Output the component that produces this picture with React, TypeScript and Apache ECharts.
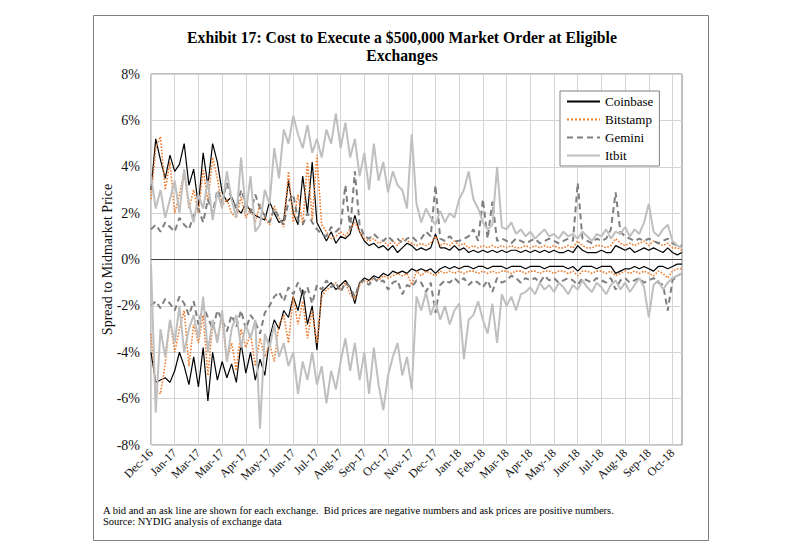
import React, { useEffect, useRef } from "react";
import * as echarts from "echarts";

const monthLabels = [
  "Dec-16", "Jan-17", "Mar-17", "Mar-17", "Apr-17", "May-17", "Jun-17", "Jul-17",
  "Aug-17", "Sep-17", "Oct-17", "Nov-17", "Dec-17", "Jan-18", "Feb-18", "Mar-18",
  "Apr-18", "May-18", "Jun-18", "Jul-18", "Aug-18", "Sep-18", "Oct-18",
];

// sampled every 6 days, 5 samples per labelled 30-day interval
const coinbaseAsk = [
  3.0, 5.2, 4.3, 3.5, 4.5, 3.8, 4.1, 5.0, 3.2, 3.9,
  2.3, 4.6, 3.2, 5.0, 4.2, 2.9, 2.5, 2.7, 2.2, 2.0,
  2.4, 2.1, 1.9, 1.8, 1.7, 2.5, 2.0, 1.6, 1.7, 3.4,
  2.0, 1.5, 3.6, 2.0, 4.2, 1.6, 1.2, 0.8, 1.2, 0.7,
  1.0, 0.9, 1.1, 1.9, 1.2, 0.8, 0.6, 0.7, 0.5, 0.6,
  0.4, 0.6, 0.3, 0.5, 0.7, 0.6, 0.4, 0.5, 0.4, 0.5,
  1.1, 0.5, 0.5, 0.4, 0.6, 0.4, 0.5, 0.3, 0.4, 0.3,
  0.4, 0.3, 0.4, 0.3, 0.4, 0.3, 0.4, 0.4, 0.3, 0.4,
  0.3, 0.4, 0.3, 0.4, 0.3, 0.4, 0.3, 0.3, 0.4, 0.3,
  0.6, 0.4, 0.3, 0.3, 0.3, 0.4, 0.3, 0.3, 0.6, 0.5,
  0.4, 0.5, 0.3, 0.4, 0.5, 0.4, 0.5, 0.4, 0.3, 0.5,
  0.3, 0.2, 0.3,
];
const coinbaseBid = [
  -4.0, -5.3, -5.2, -5.1, -5.3, -4.8, -4.0, -4.6, -5.4, -4.2,
  -5.5, -3.8, -6.1, -4.0, -5.2, -4.4, -5.1, -4.5, -5.3, -3.6,
  -4.9, -4.0, -5.2, -4.3, -5.0, -3.4, -2.6, -3.0, -2.2, -2.5,
  -1.6, -2.2, -1.3, -2.8, -2.0, -3.9, -1.4, -1.2, -1.0, -1.3,
  -1.1, -0.9, -1.2, -1.9, -1.0, -0.8, -0.9, -0.7, -0.8, -0.6,
  -0.7, -0.5, -0.6, -0.5, -0.6, -0.4, -0.5, -0.4, -0.5, -0.4,
  -0.6, -0.4, -0.3, -0.4, -0.3, -0.4, -0.3, -0.3, -0.4, -0.3,
  -0.3, -0.4, -0.3, -0.3, -0.3, -0.4, -0.3, -0.3, -0.3, -0.4,
  -0.3, -0.3, -0.3, -0.4, -0.3, -0.3, -0.3, -0.3, -0.4, -0.3,
  -0.5, -0.3, -0.3, -0.3, -0.4, -0.3, -0.3, -0.3, -0.6, -0.5,
  -0.4, -0.4, -0.3, -0.4, -0.3, -0.4, -0.5, -0.3, -0.3, -0.4,
  -0.3, -0.2, -0.2,
];
const bitstampAsk = [
  2.6, 4.8, 5.3, 3.0, 4.2, 2.0, 2.8, 3.8, 2.2, 3.0,
  2.0, 3.9, 2.5, 4.4, 3.5, 2.3, 2.6, 2.0, 1.8, 2.7,
  1.8, 2.2, 1.6, 2.4, 1.8, 1.5, 2.3, 1.8, 1.4, 3.8,
  1.6, 2.8, 1.5, 4.2, 1.7, 4.5, 1.5, 1.2, 0.9, 1.0,
  1.2, 1.0, 1.3, 1.6, 1.2, 0.9, 0.8, 0.9, 0.7, 0.8,
  0.6, 0.8, 0.6, 0.9, 0.8, 0.7, 0.6, 0.7, 0.6, 0.7,
  1.0, 0.6, 0.7, 0.6, 0.8, 0.6, 0.7, 0.5, 0.6, 0.5,
  0.6, 0.5, 0.6, 0.5, 0.6, 0.5, 0.6, 0.5, 0.5, 0.6,
  0.5, 0.6, 0.5, 0.6, 0.5, 0.6, 0.5, 0.5, 0.6, 0.5,
  0.8, 0.6, 0.5, 0.5, 0.6, 0.6, 0.5, 0.6, 0.9, 0.7,
  0.6, 0.7, 0.6, 0.7, 0.8, 0.6, 0.8, 0.7, 0.6, 0.7,
  0.5, 0.5, 0.4,
];
const bitstampBid = [
  -3.2, -5.6, -5.8, -4.5, -2.6, -4.0, -3.0, -2.2, -4.6, -2.8,
  -3.6, -2.4, -5.0, -2.8, -3.4, -2.5, -4.4, -3.6, -4.8, -3.0,
  -3.8, -3.2, -4.6, -3.4, -4.2, -3.6, -4.4, -2.8, -2.4, -3.6,
  -1.6, -2.8, -1.8, -3.4, -2.2, -3.6, -1.6, -1.3, -1.2, -1.0,
  -1.3, -1.0, -1.5, -1.7, -1.1, -0.9, -1.0, -0.8, -0.9, -0.7,
  -0.8, -0.7, -0.6, -0.7, -0.6, -1.1, -0.5, -0.7, -0.5, -0.6,
  -0.7, -0.5, -0.6, -0.5, -0.6, -0.5, -0.6, -0.5, -0.5, -0.6,
  -0.5, -0.6, -0.5, -0.6, -0.5, -0.5, -0.6, -0.5, -0.5, -0.6,
  -0.5, -0.5, -0.6, -0.5, -0.5, -0.6, -0.5, -0.5, -0.6, -0.5,
  -0.7, -0.5, -0.5, -0.6, -0.5, -0.5, -0.6, -0.5, -0.7, -0.6,
  -0.5, -0.6, -0.5, -0.6, -0.5, -0.6, -0.7, -0.5, -0.6, -0.8,
  -0.5, -0.4, -0.4,
];
const geminiAsk = [
  1.3, 1.5, 1.2, 1.6, 1.4, 1.2, 1.8, 1.5, 1.3, 1.9,
  2.2, 1.6, 2.6, 2.0, 3.0, 2.5, 3.3, 2.6, 2.2, 3.0,
  2.4, 2.0, 2.8, 2.2, 1.9, 1.6, 2.2, 1.8, 1.5, 2.5,
  2.8, 1.7, 1.5, 2.0, 1.6, 1.3, 1.1, 1.0, 1.4, 1.2,
  1.4, 3.2, 1.3, 3.8, 1.5, 1.0, 0.9, 1.1, 0.9, 0.8,
  1.0, 0.8, 0.9, 0.7, 0.9, 1.0, 0.8, 0.9, 1.2, 1.0,
  3.2, 0.9, 0.8, 1.0, 0.8, 0.8, 0.9, 1.0, 1.3, 0.8,
  2.6, 0.9, 2.5, 0.8, 0.9, 0.8, 0.7, 0.9, 0.8, 0.7,
  0.8, 0.9, 0.7, 0.8, 0.9, 0.8, 0.7, 0.8, 0.9, 0.8,
  3.3, 0.9, 0.8, 0.7, 0.9, 0.8, 0.9, 1.3, 2.9, 1.2,
  1.0, 0.9, 0.8, 0.9, 0.8, 0.9, 0.8, 0.7, 0.8, 0.9,
  0.7, 0.6, 0.6,
];
const geminiBid = [
  -2.0, -1.8, -2.1, -1.7, -1.9, -2.2, -1.6, -1.9, -2.4, -1.8,
  -2.8, -2.0, -2.5, -3.0, -2.2, -2.6, -3.1, -2.4, -2.9, -2.2,
  -3.0, -2.4, -2.7, -3.2, -2.3, -2.0, -1.6, -1.4, -1.8, -1.2,
  -1.5, -1.0, -1.6, -1.2, -1.9, -1.1, -1.3, -0.9, -1.2, -1.0,
  -1.4, -1.0, -1.2, -1.6, -1.0, -0.9, -1.1, -0.8, -1.0, -0.9,
  -1.3, -1.0, -0.9, -1.5, -1.1, -1.2, -0.9, -1.0, -1.4, -1.0,
  -2.3, -1.1, -0.9, -1.0, -0.8, -1.0, -0.8, -1.1, -0.9, -1.0,
  -1.2, -0.9, -1.4, -0.8, -1.0, -0.9, -0.7, -0.8, -1.0, -0.8,
  -0.9, -0.8, -1.0, -0.7, -0.9, -0.8, -1.0, -0.9, -0.8, -0.9,
  -1.1, -0.8, -0.9, -1.0, -0.8, -0.9, -1.0, -0.8, -1.3, -0.9,
  -0.8, -1.0, -0.9, -0.8, -1.0, -0.9, -0.8, -1.0, -1.1, -2.2,
  -0.9, -0.7, -0.6,
];
const itbitAsk = [
  3.6, 2.2, 3.0, 1.8, 2.6, 3.4, 2.0, 3.9, 2.4, 1.6,
  2.8, 2.2, 3.4, 1.7, 2.9, 2.2, 3.8, 2.6, 1.8, 4.4,
  2.0, 3.6, 1.2, 1.5, 3.0, 2.4, 4.8, 3.5, 5.6, 5.0,
  6.2, 5.4, 4.8, 5.8, 4.6, 5.2, 4.4, 5.6, 5.0, 6.3,
  4.8, 5.9, 4.4, 5.2, 3.6, 4.6, 3.0, 5.0, 3.4, 4.2,
  2.9, 3.8, 3.2, 3.0, 2.2, 5.4, 2.4, 1.6, 2.2, 1.8,
  1.5, 2.1, 1.6, 2.0, 1.8, 2.6, 3.0, 3.8, 2.6, 2.2,
  1.6, 1.3, 1.5, 4.0, 1.4, 1.3, 1.6, 1.1, 1.3, 1.0,
  1.2, 0.9, 1.1, 1.3, 1.0, 1.1, 0.9, 1.2, 1.0, 1.1,
  0.9, 1.2, 1.0, 0.8, 1.1, 1.0, 1.3, 0.9, 1.2, 1.1,
  1.4, 1.0, 1.3, 1.1, 1.6, 2.4, 1.2, 1.0, 1.3, 1.5,
  0.8, 0.6, 0.5,
];
const itbitBid = [
  -0.2, -6.6, -3.0, -4.2, -2.6, -3.6, -2.0, -4.0, -3.0, -2.4,
  -3.4, -1.6, -4.0, -2.6, -3.6, -2.2, -4.4, -3.0, -2.4, -3.8,
  -2.8, -3.4, -2.6, -7.3, -3.2, -3.8, -2.8, -4.2, -3.6, -4.6,
  -4.0, -5.8, -4.4, -5.2, -4.0, -5.4, -4.6, -6.2, -4.8, -5.6,
  -4.4, -3.4, -4.8, -3.6, -5.2, -4.0, -5.8, -3.8, -5.4, -6.5,
  -5.0, -4.2, -3.6, -5.0, -4.2, -5.6, -1.6, -2.2, -1.4, -2.4,
  -1.8, -2.6, -2.0, -2.8, -2.2, -1.9, -4.3, -2.6, -2.4, -1.8,
  -2.6, -3.2, -1.9, -3.6, -1.5, -2.0, -1.6, -2.2, -1.5, -1.4,
  -1.2, -1.5, -1.0, -1.3, -1.1, -1.4, -1.0, -1.2, -1.5, -1.1,
  -1.3, -0.9, -1.2, -1.4, -1.0, -1.2, -1.5, -1.1, -0.9, -1.3,
  -1.0, -1.4, -1.1, -0.8, -1.2, -2.5, -1.1, -0.9, -1.3, -1.0,
  -0.8, -0.7, -0.6,
];

const FONT = "'Liberation Serif', 'Times New Roman', serif";

export default function App() {
  const ref = useRef<HTMLDivElement>(null);
  useEffect(() => {
    if (!ref.current) return;
    const chart = echarts.init(ref.current, null, { renderer: "svg" });
    const cats = coinbaseAsk.map((_, i) => String(i));

    const styles: Record<string, any> = {
      Coinbase: { color: "#000000", width: 1.2, type: "solid" },
      Bitstamp: { color: "#ed7d31", width: 1.6, type: "dotted" },
      Gemini: { color: "#7f7f7f", width: 2, type: [6, 4] },
      Itbit: { color: "#bfbfbf", width: 2, type: "solid" },
    };
    const mk = (name: string, data: number[], extra: any = {}) => ({
      name,
      type: "line",
      data,
      symbol: "none",
      showSymbol: false,
      color: styles[name].color,
      lineStyle: { ...styles[name] },
      ...extra,
    });

    chart.setOption({
      animation: false,
      backgroundColor: "#ffffff",
      textStyle: { fontFamily: FONT },
      grid: {
        left: 151,
        right: 118,
        top: 74,
        bottom: 106,
        show: true,
        borderColor: "#808080",
        borderWidth: 1,
      },
      legend: {
        data: ["Coinbase", "Bitstamp", "Gemini", "Itbit"],
        orient: "vertical",
        left: 560,
        top: 91,
        padding: [4, 6, 4, 6],
        itemGap: 5,
        itemWidth: 33,
        itemHeight: 13,
        backgroundColor: "#ffffff",
        borderColor: "#808080",
        borderWidth: 1,
        borderRadius: 0,
        itemStyle: { opacity: 0 },
        textStyle: { fontFamily: FONT, fontSize: 13, color: "#000" },
      },
      xAxis: {
        type: "category",
        boundaryGap: false,
        data: cats,
        axisLine: { show: false },
        axisTick: { show: false },
        axisLabel: {
          interval: 4,
          rotate: 45,
          margin: 6,
          fontFamily: FONT,
          fontSize: 12,
          color: "#111",
          formatter: (_v: string, idx: number) =>
            idx % 5 === 0 ? monthLabels[idx / 5] ?? "" : "",
        },
        splitLine: { show: true, interval: 4, lineStyle: { color: "#d4d4d4", width: 1 } },
      },
      yAxis: {
        type: "value",
        min: -8,
        max: 8,
        interval: 2,
        axisLine: { show: false },
        axisTick: { show: false },
        axisLabel: {
          formatter: (v: number) => `${v}%`,
          fontFamily: FONT,
          fontSize: 14,
          color: "#111",
          margin: 11,
        },
        splitLine: { lineStyle: { color: "#d4d4d4", width: 1 } },
        name: "Spread to Midmarket Price",
        nameLocation: "middle",
        nameGap: 37,
        nameMoveOverlap: false,
        nameTextStyle: { fontFamily: FONT, fontSize: 14, color: "#111" },
      },
      series: [
        mk("Coinbase", coinbaseAsk, {
          markLine: {
            silent: true,
            symbol: "none",
            label: { show: false },
            lineStyle: { color: "#404040", type: "solid", width: 1.2 },
            data: [{ yAxis: 0 }],
          },
        }),
        mk("Coinbase", coinbaseBid),
        mk("Bitstamp", bitstampAsk),
        mk("Bitstamp", bitstampBid),
        mk("Gemini", geminiAsk),
        mk("Gemini", geminiBid),
        mk("Itbit", itbitAsk),
        mk("Itbit", itbitBid),
      ],
      graphic: [
        {
          type: "rect",
          z: -10,
          shape: { x: 93.5, y: 15.5, width: 615, height: 525 },
          style: { fill: "none", stroke: "#808080", lineWidth: 1 },
        },
        {
          type: "text",
          x: 402,
          y: 37,
          style: {
            text: "Exhibit 17: Cost to Execute a $500,000 Market Order at Eligible",
            font: `bold 15.7px ${FONT}`,
            fill: "#000",
            textAlign: "center",
            textVerticalAlign: "middle",
          },
        },
        {
          type: "text",
          x: 402,
          y: 55,
          style: {
            text: "Exchanges",
            font: `bold 15.7px ${FONT}`,
            fill: "#000",
            textAlign: "center",
            textVerticalAlign: "middle",
          },
        },
        {
          type: "text",
          x: 103,
          y: 510,
          style: {
            text: "A bid and an ask line are shown for each exchange.  Bid prices are negative numbers and ask prices are positive numbers.",
            font: `10.5px ${FONT}`,
            fill: "#000",
            textAlign: "left",
            textVerticalAlign: "middle",
          },
        },
        {
          type: "text",
          x: 103,
          y: 521,
          style: {
            text: "Source: NYDIG analysis of exchange data",
            font: `10.5px ${FONT}`,
            fill: "#000",
            textAlign: "left",
            textVerticalAlign: "middle",
          },
        },
      ],
    });
    return () => chart.dispose();
  }, []);

  return (
    <div
      ref={ref}
      style={{ position: "fixed", left: 0, top: 0, width: 800, height: 551, background: "#fff" }}
    />
  );
}
